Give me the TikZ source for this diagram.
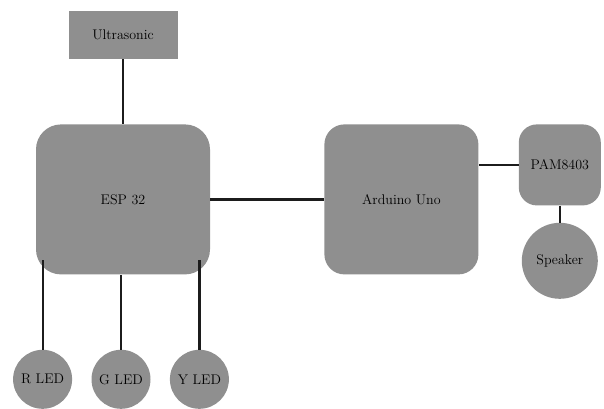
\documentclass[tikz,border=0pt]{standalone}
\usetikzlibrary{positioning}
\usetikzlibrary{calc}
\definecolor{blockgray}{HTML}{8F8F8F}
\definecolor{labelgray}{HTML}{1C1C1C}
\tikzstyle{block} = [rectangle, fill=blockgray, inner sep=0pt, text=black,
font=\fontsize{14}{16}\selectfont]
\tikzstyle{board} = [block, minimum height=150pt]
\tikzstyle{part} = [block, circle]
\tikzstyle{wire} = [draw=labelgray, line width=2.2pt]
\newcommand{\link}[2]{ %
  % Wire every node of #1 to every node of #2.
  \foreach \x in {#1} { %
    \foreach \y in {#2} { %
      \path (\x) edge [wire] (\y) ;%
    } ;
  } ;
}

\begin{document}
\begin{tikzpicture}
                \useasboundingbox (0,0) rectangle (604pt,-408pt);
                \node[block, minimum width=109pt, minimum height=48pt] (ultra) at (123pt,-35pt) {Ultrasonic} ; %
                \node[board, below=65pt of ultra, minimum width=174pt, rounded corners=25pt] (esp) {ESP 32} ; %
                \node[board, right=114pt of esp, minimum width=154pt, rounded corners=20pt] (uno) {Arduino Uno} ; %

                \node[block, right=40pt of uno.north east, anchor=north west, minimum width=82pt,
                      minimum height=81pt, rounded corners=18pt] (pam) {PAM8403} ; %
                \node[part, below=17pt of pam, minimum size=76pt] (spk) {Speaker} ; %

                \node[part, below=75pt of esp, xshift=-2pt, minimum size=59pt] (gled) {G LED} ; %
                \node[part, left=19pt of gled, minimum size=59pt] (rled) {R LED} ; %
                \node[part, right=19pt of gled, minimum size=59pt] (yled) {Y LED} ; %

                \link{ultra}{esp}
                \link{esp}{uno}
                \link{pam}{spk}
                \draw[wire] (pam.west) -- (pam.west -| uno.east);
                \draw[wire] (gled) -- (gled |- esp.south);
                \draw[wire] (rled) -- ($(rled |- esp.south)+(0,15pt)$);
                \draw[wire] (yled) -- ($(yled |- esp.south)+(0,15pt)$);
            \end{tikzpicture}
\end{document}
